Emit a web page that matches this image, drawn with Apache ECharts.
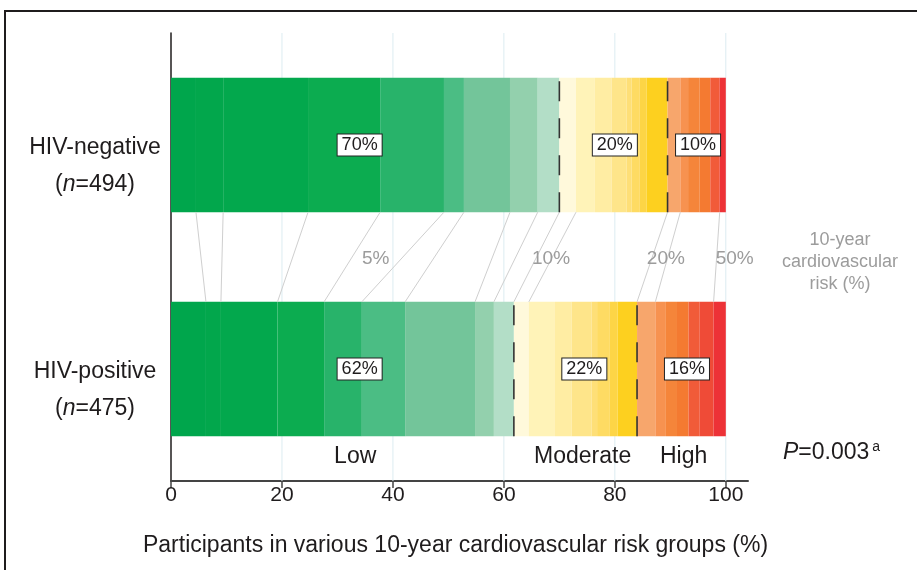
<!DOCTYPE html>
<html><head><meta charset="utf-8">
<script src="https://cdn.jsdelivr.net/npm/echarts@6/dist/echarts.min.js"></script>
<style>html,body{margin:0;padding:0;background:#fff}#c{width:917px;height:570px}</style>
</head><body><div id="c"></div>
<script>
// ---- data ----
const categories = ['HIV-negative', 'HIV-positive'];
const sampleSizes = ['494', '475'];
const segmentColors = ['#00a64c','#02a74c','#03a84d','#0cac50','#28b36a','#4bbd84','#73c59a','#93d0ad','#b3dec7',
  '#fff9db','#fff3b8','#ffeda3','#fee58a','#fedf77','#fedb63','#fdd546','#fdd01f',
  '#f7a66c','#f79250','#f5853a','#f47a31','#f15b39','#ef4b37','#ed3237'];
const hivNegative = [4.5, 4.9, 15.3, 13.0, 11.5, 3.6, 8.3, 5.0, 3.9, 3.0, 3.4, 3.0, 2.7, 0.9, 1.5, 1.2, 3.8, 2.3, 1.4, 2.1, 1.9, 1.7, 0, 1.1];
const hivPositive = [6.3, 2.7, 10.2, 8.4, 6.8, 7.8, 12.6, 3.4, 3.6, 2.7, 4.7, 3.0, 3.6, 1.0, 2.3, 1.4, 3.5, 3.3, 1.9, 2.0, 2.1, 2.0, 2.5, 2.2];
const connectorAfter = [1, 2, 3, 4, 5, 6, 7, 8, 9, 10, 17, 18, 23];
const groupEnds = [9, 17];
const groupLabelsNeg = ['70%', '20%', '10%'];
const groupLabelsPos = ['62%', '22%', '16%'];
const groupLabelXNeg = [34, 80, 95];
const groupLabelXPos = [34, 74.5, 93];
const riskLevelLabels = ['5%', '10%', '20%', '50%'];
const riskLevelX = [36.9, 68.5, 89.2, 101.6];
const riskGroups = ['Low', 'Moderate', 'High'];
const riskGroupX = [33.2, 74.2, 92.4];
const xTicks = [0, 20, 40, 60, 80, 100];

// ---- build ----
const FONT = 'Liberation Sans, Arial, Helvetica, sans-serif';
const TXT = '#1f1c1d';
function cum(arr){ const c=[0]; arr.forEach(v=>c.push(+(c[c.length-1]+v).toFixed(4))); return c; }
const cumNeg = cum(hivNegative), cumPos = cum(hivPositive);
const cums = [cumNeg, cumPos];

const series = [];
// gridlines
series.push({
  type:'custom', xAxisIndex:0, yAxisIndex:1, z:1, silent:true,
  data: xTicks.filter(v=>v>0).map(v=>[v, 0]),
  encode:{x:0, y:1},
  renderItem:(params, api)=>{
    const cs = params.coordSys;
    const p = api.coord([api.value(0), 0]);
    return {type:'line', shape:{x1:p[0], y1:cs.y, x2:p[0], y2:cs.y+cs.height}, style:{stroke:'#dcecf1', lineWidth:1}};
  }
});
segmentColors.forEach((c,i)=>{
  series.push({type:'bar', stack:'all', barWidth:'60%', z:2, silent:true,
    data:[hivNegative[i], hivPositive[i]], itemStyle:{color:c}});
});
// connectors
series.push({
  type:'custom', xAxisIndex:0, yAxisIndex:0, z:3, silent:true,
  data: connectorAfter.map(k=>[cumNeg[k], cumPos[k], 0]),
  encode:{x:[0,1], y:2},
  renderItem:(params, api)=>{
    const half = api.size([0,1])[1]*0.3;
    const p1 = api.coord([api.value(0), 0]);
    const p2 = api.coord([api.value(1), 1]);
    return {type:'line', shape:{x1:p1[0], y1:p1[1]+half, x2:p2[0], y2:p2[1]-half}, style:{stroke:'#cfcfcf', lineWidth:1}};
  }
});
// dashed group boundaries
const dashData = [];
cums.forEach((c,ci)=>groupEnds.forEach(g=>dashData.push([c[g], ci])));
series.push({
  type:'custom', xAxisIndex:0, yAxisIndex:0, z:4, silent:true,
  data: dashData, encode:{x:0, y:1},
  renderItem:(params, api)=>{
    const half = api.size([0,1])[1]*0.3;
    const p = api.coord([api.value(0), api.value(1)]);
    return {type:'line', shape:{x1:p[0], y1:p[1]+half, x2:p[0], y2:p[1]-half}, style:{stroke:'#333', lineWidth:1.6, lineDash:[20,17]}};
  }
});
// boxed group percentages
const boxData = [];
groupLabelsNeg.forEach((t,i)=>boxData.push([groupLabelXNeg[i], 0, t]));
groupLabelsPos.forEach((t,i)=>boxData.push([groupLabelXPos[i], 1, t]));
series.push({
  type:'scatter', xAxisIndex:0, yAxisIndex:0, z:6, silent:true, symbolSize:0, clip:false,
  itemStyle:{opacity:1},
  data: boxData, encode:{x:0, y:1},
  label:{show:true, position:'inside', formatter:p=>p.value[2], fontFamily:FONT, fontSize:18, color:TXT,
    backgroundColor:'#fff', borderColor:'#222', borderWidth:1, padding:[2,4,0,4], lineHeight:19}
});
// risk level labels
series.push({
  type:'scatter', xAxisIndex:0, yAxisIndex:1, z:6, silent:true, symbolSize:0, clip:false,
  itemStyle:{opacity:1},
  data: riskLevelLabels.map((t,i)=>[riskLevelX[i], 0.497, t]), encode:{x:0, y:1},
  label:{show:true, position:'inside', formatter:p=>p.value[2], fontFamily:FONT, fontSize:19, color:'#9c9c9c'}
});
// risk group labels
series.push({
  type:'scatter', xAxisIndex:0, yAxisIndex:1, z:6, silent:true, symbolSize:0, clip:false,
  itemStyle:{opacity:1},
  data: riskGroups.map((t,i)=>[riskGroupX[i], 0.054, t]), encode:{x:0, y:1},
  label:{show:true, position:'inside', formatter:p=>p.value[2], fontFamily:FONT, fontSize:23, color:TXT}
});

const chart = echarts.init(document.getElementById('c'));
chart.setOption({
  animation:false,
  backgroundColor:'#fff',
  textStyle:{fontFamily:FONT},
  grid:{left:171, right:169, top:33, bottom:89, containLabel:false},
  xAxis:{type:'value', min:0, max:104, interval:20,
    axisLine:{show:true, lineStyle:{color:'#444', width:2}},
    axisTick:{show:true, length:7, lineStyle:{color:'#444', width:1.5}, customValues:xTicks},
    axisLabel:{customValues:xTicks, formatter:v=>xTicks.includes(v)?String(v):'', fontSize:21, color:TXT, margin:4, fontFamily:FONT},
    splitLine:{show:false},
    name:'Participants in various 10-year cardiovascular risk groups (%)', nameLocation:'middle', nameGap:53,
    nameTextStyle:{fontSize:23, color:TXT, fontFamily:FONT, padding:[0,8,0,0]}
  },
  yAxis:[{type:'category', data:categories, inverse:true,
    axisLine:{show:true, lineStyle:{color:TXT, width:1.5}}, axisTick:{show:false},
    axisLabel:{margin:76, align:'center', padding:[42,0,0,0],
      formatter:(v,i)=>'{a|'+v+'}\n{a|(}{i|n}{a|='+sampleSizes[i]+')}',
      rich:{a:{fontSize:23, lineHeight:37, color:TXT, fontFamily:FONT}, i:{fontSize:23, lineHeight:37, color:TXT, fontStyle:'italic', fontFamily:FONT}}}
  },{type:'value', min:0, max:1, show:false}],
  graphic:[
    {type:'rect', shape:{x:5, y:11, width:1000, height:1000}, style:{fill:'none', stroke:TXT, lineWidth:2}, silent:true},
    {type:'text', x:840, y:262, style:{text:'10-year\ncardiovascular\nrisk (%)', align:'center', verticalAlign:'middle', fontSize:18, lineHeight:22, fill:'#9c9c9c', fontFamily:FONT}},
    {type:'text', x:783, y:453, style:{text:'{i|P}{n|=0.003}{s|a}', verticalAlign:'middle', fill:TXT, fontFamily:FONT,
      rich:{i:{fontStyle:'italic', fontSize:23, lineHeight:26, fill:TXT, fontFamily:FONT}, n:{fontSize:23, lineHeight:26, fill:TXT, fontFamily:FONT}, s:{fontSize:14, lineHeight:26, verticalAlign:'top', fill:TXT, fontFamily:FONT, padding:[0,0,12,3]}}}}
  ],
  series: series
});
</script></body></html>
